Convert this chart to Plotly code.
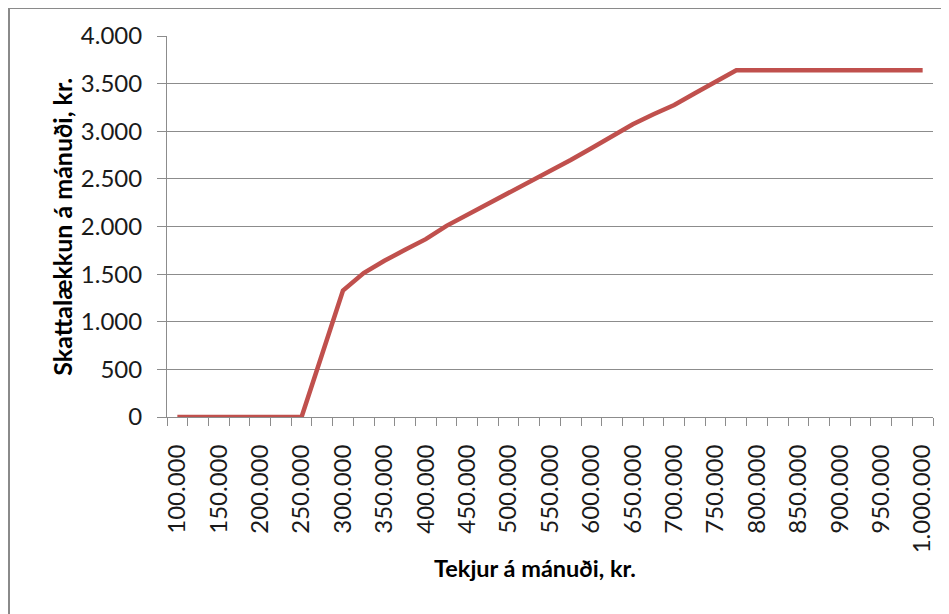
import plotly.graph_objects as go

# Data
income = [100000, 125000, 150000, 175000, 200000, 225000, 250000, 275000, 300000,
          325000, 350000, 375000, 400000, 425000, 450000, 475000, 500000, 525000,
          550000, 575000, 600000, 625000, 650000, 675000, 700000, 725000, 750000,
          775000, 800000, 825000, 850000, 875000, 900000, 925000, 950000, 975000,
          1000000]
tax_cut = [0, 0, 0, 0, 0, 0, 0, 664, 1328,
           1511, 1640, 1755, 1867, 2007, 2122, 2234, 2346, 2465,
           2580, 2699, 2822, 2944, 3074, 3179, 3276, 3399, 3521,
           3640, 3640, 3640, 3640, 3640, 3640, 3640, 3640, 3640,
           3640]
x_labels = list(range(100000, 1000001, 50000))
y_ticks = list(range(0, 4001, 500))
x_title = "Tekjur á mánuði, kr."
y_title = "Skattalækkun á mánuði, kr."

# page has an 8px body margin, so the figure spans page x 8..949, y 8..614
W, H = 941, 606
L, R, T, B = 159, 16, 28, 197
pw, ph = W - L - R, H - T - B

def px_x(p):
    return (p - L) / pw

def px_y(p):
    return (H - B - p) / ph

FONT = "Lato, 'Open Sans', sans-serif"
GRID = "#8c8c8c"

fig = go.Figure()
fig.add_trace(go.Scatter(
    x=income, y=tax_cut, mode="lines",
    line=dict(color="#C0504D", width=4.5),
    showlegend=False, hoverinfo="x+y",
))

fig.update_layout(
    width=W, height=H,
    margin=dict(l=L, r=R, t=T, b=B),
    paper_bgcolor="white", plot_bgcolor="white",
    separators=",.",
    font=dict(family=FONT, size=24, color="#1a1a1a"),
    xaxis=dict(
        range=[87500, 1012500],
        tickmode="array", tickvals=x_labels, tickformat=",d",
        tickangle=-90,
        ticks="outside", ticklen=17, tickcolor="rgba(0,0,0,0)",
        showgrid=False, zeroline=False,
        showline=True, linecolor=GRID, linewidth=1,
        minor=dict(tick0=87500, dtick=25000, ticks="outside", ticklen=8,
                   tickcolor=GRID, tickwidth=1, showgrid=False),
        tickfont=dict(family=FONT, size=24, color="#1a1a1a"),
    ),
    yaxis=dict(
        range=[0, 4000],
        tickmode="array", tickvals=y_ticks, tickformat=",d",
        ticks="outside", ticklen=9, tickcolor=GRID, tickwidth=1,
        ticklabelstandoff=10,
        showgrid=True, gridcolor=GRID, gridwidth=1,
        zeroline=False,
        showline=True, linecolor=GRID, linewidth=1,
        tickfont=dict(family=FONT, size=24, color="#1a1a1a"),
    ),
    annotations=[
        dict(text=f"<b>{x_title}</b>", xref="paper", yref="paper",
             x=px_x(527), y=px_y(560), xanchor="center", yanchor="middle",
             showarrow=False, font=dict(family=FONT, size=23.5, color="#000000")),
        dict(text=f"<b>{y_title}</b>", xref="paper", yref="paper",
             x=px_x(53.7), y=px_y(219), xanchor="center", yanchor="middle",
             textangle=-90,
             showarrow=False, font=dict(family=FONT, size=25, color="#000000")),
    ],
    shapes=[
        dict(type="path", xref="paper", yref="paper",
             path=f"M {px_x(1)} {px_y(H + 5)} L {px_x(1)} {px_y(0)} L {px_x(W + 5)} {px_y(0)}",
             line=dict(color="#8a8a8a", width=2), layer="above"),
    ],
)

fig.write_html("out.html")
